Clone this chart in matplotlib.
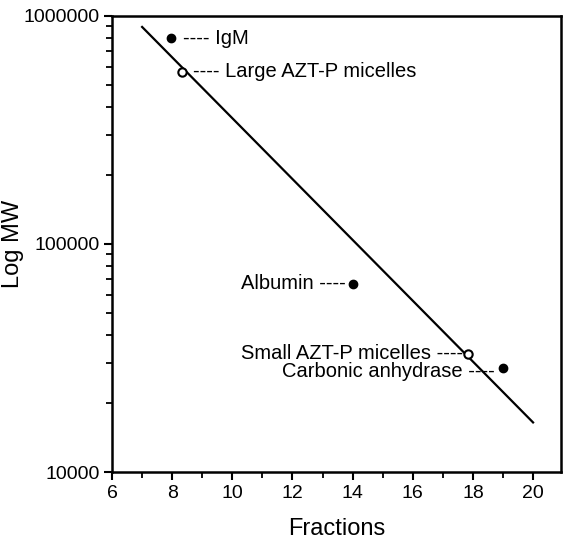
import matplotlib
matplotlib.use("Agg")
import matplotlib.pyplot as plt
from matplotlib.ticker import FixedLocator, FuncFormatter, LogLocator, NullFormatter, MultipleLocator

plt.rcParams['font.family'] = ['Liberation Sans', 'DejaVu Sans']

# standards and samples
names = ["IgM", "Large AZT-P micelles", "Albumin", "Small AZT-P micelles", "Carbonic anhydrase"]
fractions = [7.95, 8.33, 14.0, 17.85, 19.0]
mw = [800000, 570000, 67000, 33000, 28700]
filled = [True, False, True, False, True]

# fitted line end points
line_x = [7.0, 20.0]
line_y = [895000, 16500]

fig = plt.figure(figsize=(5.63, 5.41), dpi=100)
ax = fig.add_axes([0.199, 0.1275, 0.7975, 0.843])

ax.plot(line_x, line_y, color='black', lw=1.6)

for x, y, f in zip(fractions, mw, filled):
    if f:
        ax.plot(x, y, 'o', color='black', ms=6)
    else:
        ax.plot(x, y, 'o', mfc='white', mec='black', mew=1.5, ms=6)

# label placement: (text, offset in pixels, alignment)
label_style = [
    ("---- IgM", (12, 0), 'left'),
    ("---- Large AZT-P micelles", (11, 0), 'left'),
    ("Albumin ----", (-7, 0), 'right'),
    ("Small AZT-P micelles ----", (-5, 0), 'right'),
    ("Carbonic anhydrase ----", (-8, -4), 'right'),
]
for (txt, off, ha), x, y in zip(label_style, fractions, mw):
    ax.annotate(txt, (x, y), xytext=off, textcoords='offset pixels',
                ha=ha, va='center', fontsize=14.5)

ax.set_yscale('log')
ax.set_xlim(6, 20.93)
ax.set_ylim(10000, 1000000)

ax.xaxis.set_major_locator(MultipleLocator(2))
ax.xaxis.set_minor_locator(MultipleLocator(1))
ax.yaxis.set_major_locator(FixedLocator([10000, 100000, 1000000]))
ax.yaxis.set_major_formatter(FuncFormatter(lambda v, p: "%d" % v))
ax.yaxis.set_minor_locator(LogLocator(base=10, subs=range(2, 10)))
ax.yaxis.set_minor_formatter(NullFormatter())

ax.tick_params(which='major', direction='out', length=6, width=1.5, labelsize=14, pad=3)
ax.tick_params(which='minor', direction='out', length=4, width=1.3)
for s in ax.spines.values():
    s.set_linewidth(1.8)

ax.set_xlabel("Fractions", fontsize=17, labelpad=12)
ax.set_ylabel("Log MW", fontsize=17)
ax.yaxis.set_label_coords(-0.195, 0.5)

fig.savefig("out.png", dpi=100)
